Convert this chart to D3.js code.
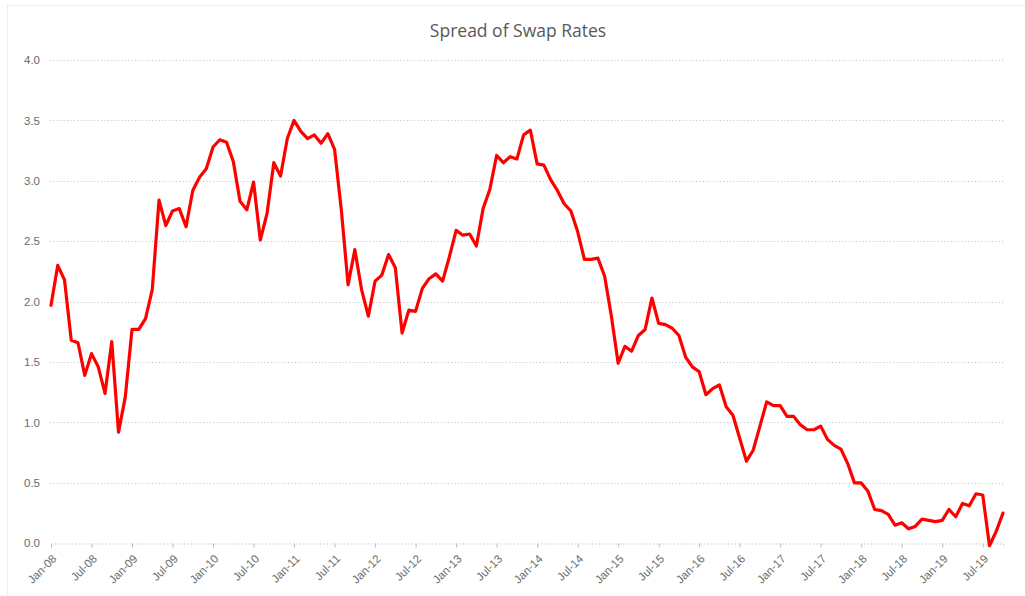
<!DOCTYPE html>
<html>
<head>
<meta charset="utf-8">
<script src="https://cdn.jsdelivr.net/npm/d3@7"></script>
<style>
  body { margin: 0; background: #fff; }
  svg { display: block; font-family: "Open Sans", sans-serif; }
  .axis text { fill: #6b6b6b; }
  .grid line { stroke: #c8c8c8; stroke-dasharray: 1.2,2.2; }
</style>
</head>
<body>
<div id="chart"></div>
<script>
// monthly spread of swap rates, Jan-08 .. Oct-19
var spread = [
    1.97, 2.30, 2.18, 1.68, 1.66, 1.39, 1.57, 1.46, 1.24, 1.67, 0.92, 1.21,
    1.77, 1.77, 1.86, 2.10, 2.84, 2.63, 2.75, 2.77, 2.62, 2.92, 3.03, 3.10,
    3.28, 3.34, 3.32, 3.16, 2.83, 2.76, 2.99, 2.51, 2.73, 3.15, 3.04, 3.35,
    3.50, 3.41, 3.35, 3.38, 3.31, 3.39, 3.26, 2.76, 2.14, 2.43, 2.10, 1.88,
    2.17, 2.22, 2.39, 2.28, 1.74, 1.93, 1.92, 2.11, 2.19, 2.23, 2.17, 2.37,
    2.59, 2.55, 2.56, 2.46, 2.77, 2.93, 3.21, 3.15, 3.20, 3.18, 3.38, 3.42,
    3.14, 3.13, 3.01, 2.92, 2.81, 2.75, 2.58, 2.35, 2.35, 2.36, 2.21, 1.88,
    1.49, 1.63, 1.59, 1.72, 1.77, 2.03, 1.82, 1.81, 1.78, 1.72, 1.54, 1.46,
    1.42, 1.23, 1.28, 1.31, 1.13, 1.06, 0.87, 0.68, 0.77, 0.97, 1.17, 1.14,
    1.14, 1.05, 1.05, 0.98, 0.94, 0.94, 0.97, 0.86, 0.81, 0.78, 0.66, 0.50,
    0.50, 0.43, 0.28, 0.27, 0.24, 0.15, 0.17, 0.12, 0.14, 0.20, 0.19, 0.18,
    0.19, 0.28, 0.22, 0.33, 0.31, 0.41, 0.40, -0.02, 0.10, 0.25
];

var fmtMonth = d3.timeFormat("%b-%y");
var months = d3.timeMonth.range(new Date(2008, 0, 1), new Date(2019, 10, 1)).map(fmtMonth);

var xTicks = ["Jan-08", "Jul-08", "Jan-09", "Jul-09", "Jan-10", "Jul-10", "Jan-11", "Jul-11",
    "Jan-12", "Jul-12", "Jan-13", "Jul-13", "Jan-14", "Jul-14", "Jan-15", "Jul-15",
    "Jan-16", "Jul-16", "Jan-17", "Jul-17", "Jan-18", "Jul-18", "Jan-19", "Jul-19"];
var yTicks = [0, 0.5, 1, 1.5, 2, 2.5, 3, 3.5, 4];

var data = months.map(function(m, i) { return {month: m, value: spread[i]}; });

var svg_width = 1025, svg_height = 596;
var svg = d3.select("#chart").append("svg")
    .attr("width", svg_width)
    .attr("height", svg_height);

// chart frame (only top/left edge fall inside the picture)
svg.append("rect")
    .attr("x", 7.5).attr("y", 5.5)
    .attr("width", 1040).attr("height", 620)
    .attr("fill", "none")
    .attr("stroke", "#d0d0d0")
    .attr("stroke-dasharray", "1,2");

var margin = {top: 60, right: 22, bottom: 53, left: 51},
    width = svg_width - margin.left - margin.right,
    height = 543.3 - margin.top,
    g = svg.append("g").attr("transform", "translate(" + margin.left + "," + margin.top + ")");

var x = d3.scalePoint()
    .domain(months)
    .range([0, width]);

var y = d3.scaleLinear()
    .domain([0, 4])
    .range([height, 0]);

svg.append("text")
    .attr("x", 518)
    .attr("y", 37)
    .attr("text-anchor", "middle")
    .attr("fill", "#595959")
    .attr("font-size", 17.5)
    .text("Spread of Swap Rates");

// horizontal gridlines
g.append("g")
    .attr("class", "grid")
    .selectAll("line")
    .data(yTicks.filter(function(d) { return d > 0; }))
    .enter().append("line")
    .attr("x1", -1).attr("x2", width + 1)
    .attr("y1", function(d) { return Math.round(y(d)) + 0.5; })
    .attr("y2", function(d) { return Math.round(y(d)) + 0.5; });

var yAxis = g.append("g")
    .attr("class", "axis")
    .attr("font-size", 11.5)
    .call(d3.axisLeft(y).tickValues(yTicks).tickFormat(d3.format(".1f")).tickSize(0).tickPadding(11));
yAxis.attr("font-size", 11.5);
yAxis.select(".domain").remove();

var xAxis = g.append("g")
    .attr("class", "axis")
    .attr("transform", "translate(0," + (Math.round(height) + 0.5) + ")")
    .call(d3.axisBottom(x).tickValues(xTicks).tickSize(4));
xAxis.attr("font-size", 11.5);

xAxis.select(".domain")
    .attr("stroke", "#bdbdbd")
    .attr("stroke-dasharray", "1.2,2.2");
xAxis.selectAll(".tick line").attr("stroke", "#bdbdbd");
xAxis.selectAll(".tick text")
    .attr("y", 0)
    .attr("dy", "0.35em")
    .attr("text-anchor", "end")
    .attr("transform", "translate(3,13) rotate(-45)");

var line = d3.line()
    .x(function(d) { return x(d.month); })
    .y(function(d) { return y(d.value); });

g.append("path")
    .datum(data)
    .attr("fill", "none")
    .attr("stroke", "#ff0000")
    .attr("stroke-width", 3.2)
    .attr("stroke-linejoin", "round")
    .attr("stroke-linecap", "round")
    .attr("d", line);
</script>
</body>
</html>
